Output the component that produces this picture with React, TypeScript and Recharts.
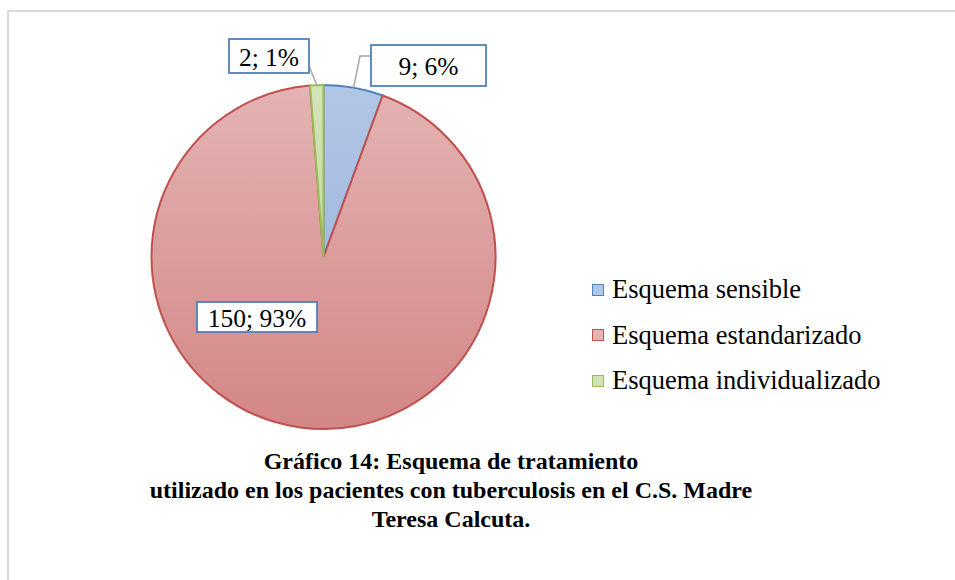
import React from 'react';
import { PieChart, Pie, Cell, Legend } from 'recharts';

const categories = ['Esquema sensible', 'Esquema estandarizado', 'Esquema individualizado'];
const counts = [9, 150, 2];
const titleLines = [
  'Gráfico 14: Esquema de tratamiento',
  'utilizado en los pacientes con tuberculosis en el C.S. Madre',
  'Teresa Calcuta.',
];

const data = categories.map((name, i) => ({ name, value: counts[i] }));

const CX = 323.5;
const CY = 257;
const R = 172;
const RADIAN = Math.PI / 180;
const FONT = '"Liberation Serif", "Times New Roman", serif';

// [top, bottom, outline]
const palette = [
  ['#b2c6e6', '#93add6', '#4f81bd'],
  ['#e4b3b3', '#d38686', '#c0504d'],
  ['#d3e3b8', '#bcd296', '#9bbb59'],
];

// data label boxes, offsets from pie centre
const labelBoxes = [
  { dx: 47.5, dy: -212, w: 115, h: 41, lead: [36.5, -201], end: [47.5, -201] },
  { dx: -126.5, dy: 45, w: 120, h: 30 },
  { dx: -94.5, dy: -218, w: 80, h: 34, lead: null, end: [-14.5, -191] },
];

const renderLabel = (props: any) => {
  const { cx, cy, midAngle, outerRadius, index, value, percent } = props;
  const box = labelBoxes[index];
  const ax = cx + outerRadius * Math.cos(-midAngle * RADIAN);
  const ay = cy + outerRadius * Math.sin(-midAngle * RADIAN);
  const pts: number[][] = [[ax, ay]];
  if (box.lead) pts.push([cx + box.lead[0], cy + box.lead[1]]);
  if (box.end) pts.push([cx + box.end[0], cy + box.end[1]]);
  const x = cx + box.dx;
  const y = cy + box.dy;
  return (
    <g key={`lbl-${index}`}>
      {pts.length > 1 && (
        <polyline
          points={pts.map((p) => p.join(',')).join(' ')}
          fill="none"
          stroke="#a6a6a6"
          strokeWidth={1.5}
        />
      )}
      <rect x={x} y={y} width={box.w} height={box.h} fill="#ffffff" stroke="#4a7ebb" strokeWidth={1.75} />
      <text
        x={x + box.w / 2}
        y={y + box.h / 2 + 1}
        textAnchor="middle"
        dominantBaseline="central"
        fontFamily={FONT}
        fontSize={25.5}
        fill="#000"
      >
        {`${value}; ${Math.round(percent * 100)}%`}
      </text>
    </g>
  );
};

const renderLegend = () => (
  <div style={{ fontFamily: FONT, fontSize: 26.5, color: '#000' }}>
    {categories.map((name, i) => (
      <div key={name} style={{ height: 45.5, display: 'flex', alignItems: 'center', whiteSpace: 'nowrap' }}>
        <span
          style={{
            display: 'inline-block',
            width: 10,
            height: 10,
            marginLeft: 2,
            marginRight: 8,
            background: palette[i][0],
            border: `1.5px solid ${palette[i][2]}`,
          }}
        />
        <span>{name}</span>
      </div>
    ))}
  </div>
);

const App: React.FC = () => {
  return (
    <div style={{ position: 'absolute', left: 0, top: 0, width: 955, height: 580, overflow: 'hidden', background: '#fff' }}>
      <div
        style={{
          position: 'absolute',
          left: 7,
          top: 10,
          width: 1000,
          height: 600,
          borderLeft: '2px solid #d9d9d9',
          borderTop: '2px solid #d9d9d9',
        }}
      />
      <PieChart
        width={955}
        height={580}
        margin={{ top: 0, right: 0, bottom: 0, left: 0 }}
        style={{ position: 'absolute', left: 0, top: 0 }}
      >
        <defs>
          {palette.map((p, i) => (
            <linearGradient key={i} id={`slice${i}`} gradientUnits="userSpaceOnUse" x1={0} y1={CY - R} x2={0} y2={CY + R}>
              <stop offset="0%" stopColor={p[0]} />
              <stop offset="100%" stopColor={p[1]} />
            </linearGradient>
          ))}
        </defs>
        <Pie
          data={data}
          dataKey="value"
          nameKey="name"
          cx={CX}
          cy={CY}
          outerRadius={R}
          startAngle={90}
          endAngle={-270}
          label={renderLabel}
          labelLine={false}
          isAnimationActive={false}
        >
          {data.map((d, i) => (
            <Cell key={d.name} fill={`url(#slice${i})`} stroke={palette[i][2]} strokeWidth={2} />
          ))}
        </Pie>
        <Legend
          layout="vertical"
          verticalAlign="middle"
          align="right"
          content={renderLegend}
          wrapperStyle={{ left: 590, top: 267, right: 'auto', bottom: 'auto', width: 340 }}
        />
      </PieChart>
      <div
        style={{
          position: 'absolute',
          left: 0,
          top: 447,
          width: 902,
          textAlign: 'center',
          fontFamily: FONT,
          fontWeight: 'bold',
          fontSize: 24,
          lineHeight: '29px',
          color: '#000',
        }}
      >
        {titleLines.map((t) => (
          <div key={t}>{t}</div>
        ))}
      </div>
    </div>
  );
};

export default App;
